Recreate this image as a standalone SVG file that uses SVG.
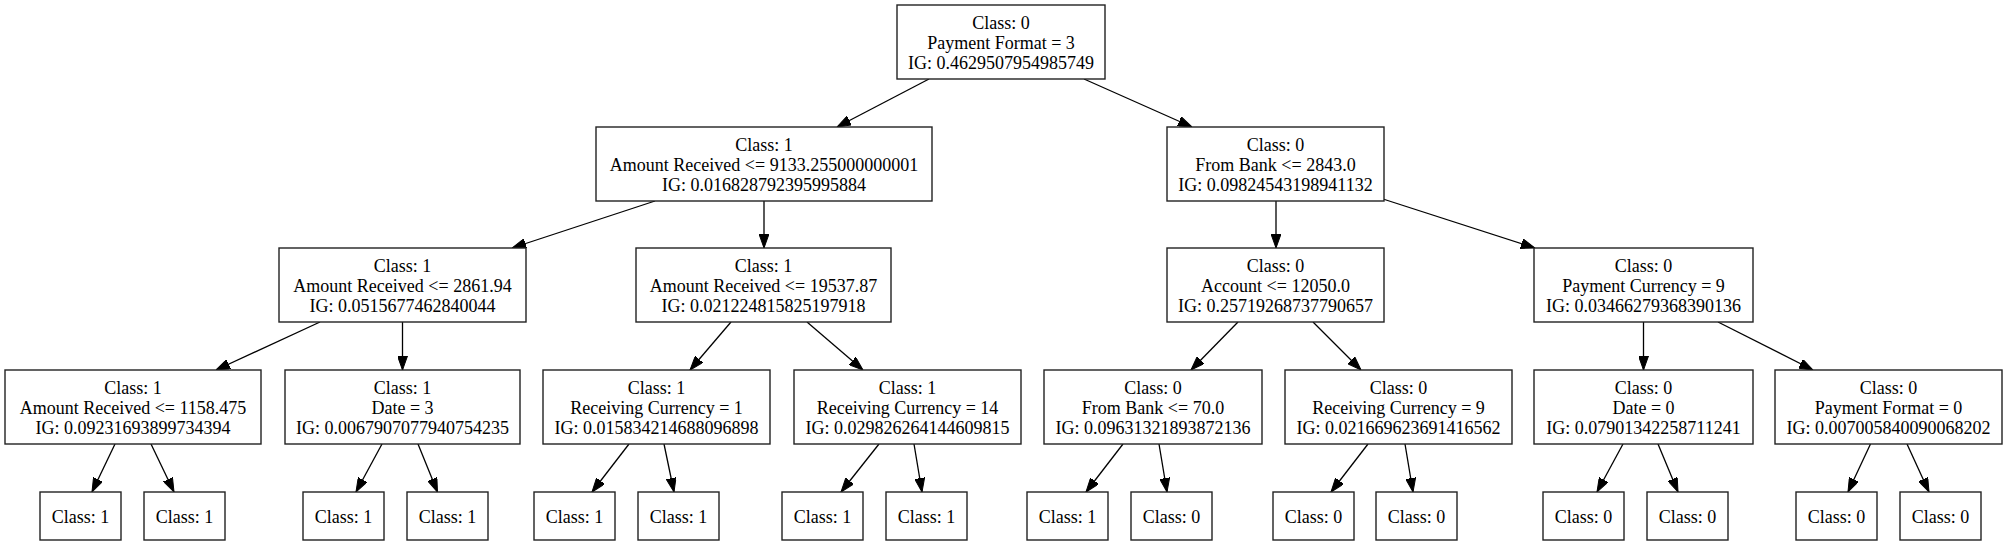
<svg xmlns="http://www.w3.org/2000/svg" width="2008" height="545" viewBox="0 0 2008 545">
<style>
rect{fill:#fff;stroke:#222;stroke-width:1.4}
text{font-family:"Liberation Serif","Times New Roman",serif;font-size:18px;fill:#000;text-anchor:middle}
.e path{fill:none;stroke:#000;stroke-width:1.3;marker-end:url(#ah)}
</style>
<defs>
<marker id="ah" viewBox="0 0 14 10" refX="14" refY="5" markerWidth="14" markerHeight="10" markerUnits="userSpaceOnUse" orient="auto">
<path d="M0,0 L14,5 L0,10 z" fill="#000" stroke="#000" stroke-width="1"/>
</marker>
</defs>
<rect x="0" y="0" width="2008" height="545" style="fill:#fff;stroke:none"/>
<g class="e" id="edges">
<path d="M929,79 L837,127"/>
<path d="M1084,79 L1192,127"/>
<path d="M655,201 L512,248"/>
<path d="M764,201 L764,248"/>
<path d="M1276,201 L1276,248"/>
<path d="M1383,199 L1535,248"/>
<path d="M320,322 L216,370"/>
<path d="M402.5,322 L402.5,370"/>
<path d="M731,322 L690,370"/>
<path d="M807,322 L863,370"/>
<path d="M1238,322 L1191,370"/>
<path d="M1313,322 L1361,370"/>
<path d="M1643.5,322 L1643.5,370"/>
<path d="M1718,322 L1813,370"/>
<path d="M115,444 L92,492"/>
<path d="M151,444 L174,492"/>
<path d="M382,444 L356,492"/>
<path d="M418,444 L437.5,492"/>
<path d="M629,444 L592,492"/>
<path d="M664,444 L674,492"/>
<path d="M879,444 L841,492"/>
<path d="M914,444 L922,492"/>
<path d="M1123,444 L1086,492"/>
<path d="M1159,444 L1167,492"/>
<path d="M1368,444 L1331,492"/>
<path d="M1405,444 L1413,492"/>
<path d="M1623,444 L1597,492"/>
<path d="M1658,444 L1678,492"/>
<path d="M1870.5,444 L1848,492"/>
<path d="M1907,444 L1929,492"/>
</g>
<g id="n0"><rect x="897" y="5" width="208" height="74"/><text x="1001" y="28.5">Class: 0</text><text x="1001" y="48.5">Payment Format = 3</text><text x="1001" y="68.5">IG: 0.4629507954985749</text></g>
<g id="n1"><rect x="596" y="127" width="336" height="74"/><text x="764" y="150.5">Class: 1</text><text x="764" y="170.5">Amount Received &lt;= 9133.255000000001</text><text x="764" y="190.5">IG: 0.016828792395995884</text></g>
<g id="n2"><rect x="1167" y="127" width="217" height="74"/><text x="1275.5" y="150.5">Class: 0</text><text x="1275.5" y="170.5">From Bank &lt;= 2843.0</text><text x="1275.5" y="190.5">IG: 0.09824543198941132</text></g>
<g id="n3"><rect x="279" y="248" width="247" height="74"/><text x="402.5" y="271.5">Class: 1</text><text x="402.5" y="291.5">Amount Received &lt;= 2861.94</text><text x="402.5" y="311.5">IG: 0.0515677462840044</text></g>
<g id="n4"><rect x="636" y="248" width="255" height="74"/><text x="763.5" y="271.5">Class: 1</text><text x="763.5" y="291.5">Amount Received &lt;= 19537.87</text><text x="763.5" y="311.5">IG: 0.021224815825197918</text></g>
<g id="n5"><rect x="1167" y="248" width="217" height="74"/><text x="1275.5" y="271.5">Class: 0</text><text x="1275.5" y="291.5">Account &lt;= 12050.0</text><text x="1275.5" y="311.5">IG: 0.25719268737790657</text></g>
<g id="n6"><rect x="1534" y="248" width="219" height="74"/><text x="1643.5" y="271.5">Class: 0</text><text x="1643.5" y="291.5">Payment Currency = 9</text><text x="1643.5" y="311.5">IG: 0.03466279368390136</text></g>
<g id="n7"><rect x="5" y="370" width="256" height="74"/><text x="133" y="393.5">Class: 1</text><text x="133" y="413.5">Amount Received &lt;= 1158.475</text><text x="133" y="433.5">IG: 0.09231693899734394</text></g>
<g id="n8"><rect x="285" y="370" width="235" height="74"/><text x="402.5" y="393.5">Class: 1</text><text x="402.5" y="413.5">Date = 3</text><text x="402.5" y="433.5">IG: 0.0067907077940754235</text></g>
<g id="n9"><rect x="543" y="370" width="227" height="74"/><text x="656.5" y="393.5">Class: 1</text><text x="656.5" y="413.5">Receiving Currency = 1</text><text x="656.5" y="433.5">IG: 0.015834214688096898</text></g>
<g id="n10"><rect x="794" y="370" width="227" height="74"/><text x="907.5" y="393.5">Class: 1</text><text x="907.5" y="413.5">Receiving Currency = 14</text><text x="907.5" y="433.5">IG: 0.029826264144609815</text></g>
<g id="n11"><rect x="1044" y="370" width="218" height="74"/><text x="1153" y="393.5">Class: 0</text><text x="1153" y="413.5">From Bank &lt;= 70.0</text><text x="1153" y="433.5">IG: 0.09631321893872136</text></g>
<g id="n12"><rect x="1285" y="370" width="227" height="74"/><text x="1398.5" y="393.5">Class: 0</text><text x="1398.5" y="413.5">Receiving Currency = 9</text><text x="1398.5" y="433.5">IG: 0.021669623691416562</text></g>
<g id="n13"><rect x="1534" y="370" width="219" height="74"/><text x="1643.5" y="393.5">Class: 0</text><text x="1643.5" y="413.5">Date = 0</text><text x="1643.5" y="433.5">IG: 0.07901342258711241</text></g>
<g id="n14"><rect x="1775" y="370" width="227" height="74"/><text x="1888.5" y="393.5">Class: 0</text><text x="1888.5" y="413.5">Payment Format = 0</text><text x="1888.5" y="433.5">IG: 0.007005840090068202</text></g>
<g id="l1"><rect x="40" y="492" width="81" height="48"/><text x="80.5" y="523">Class: 1</text></g>
<g id="l2"><rect x="144" y="492" width="81" height="48"/><text x="184.5" y="523">Class: 1</text></g>
<g id="l3"><rect x="303" y="492" width="81" height="48"/><text x="343.5" y="523">Class: 1</text></g>
<g id="l4"><rect x="407" y="492" width="81" height="48"/><text x="447.5" y="523">Class: 1</text></g>
<g id="l5"><rect x="534" y="492" width="81" height="48"/><text x="574.5" y="523">Class: 1</text></g>
<g id="l6"><rect x="638" y="492" width="81" height="48"/><text x="678.5" y="523">Class: 1</text></g>
<g id="l7"><rect x="782" y="492" width="81" height="48"/><text x="822.5" y="523">Class: 1</text></g>
<g id="l8"><rect x="886" y="492" width="81" height="48"/><text x="926.5" y="523">Class: 1</text></g>
<g id="l9"><rect x="1027" y="492" width="81" height="48"/><text x="1067.5" y="523">Class: 1</text></g>
<g id="l10"><rect x="1131" y="492" width="81" height="48"/><text x="1171.5" y="523">Class: 0</text></g>
<g id="l11"><rect x="1273" y="492" width="81" height="48"/><text x="1313.5" y="523">Class: 0</text></g>
<g id="l12"><rect x="1376" y="492" width="81" height="48"/><text x="1416.5" y="523">Class: 0</text></g>
<g id="l13"><rect x="1543" y="492" width="81" height="48"/><text x="1583.5" y="523">Class: 0</text></g>
<g id="l14"><rect x="1647" y="492" width="81" height="48"/><text x="1687.5" y="523">Class: 0</text></g>
<g id="l15"><rect x="1796" y="492" width="81" height="48"/><text x="1836.5" y="523">Class: 0</text></g>
<g id="l16"><rect x="1900" y="492" width="81" height="48"/><text x="1940.5" y="523">Class: 0</text></g>
</svg>
